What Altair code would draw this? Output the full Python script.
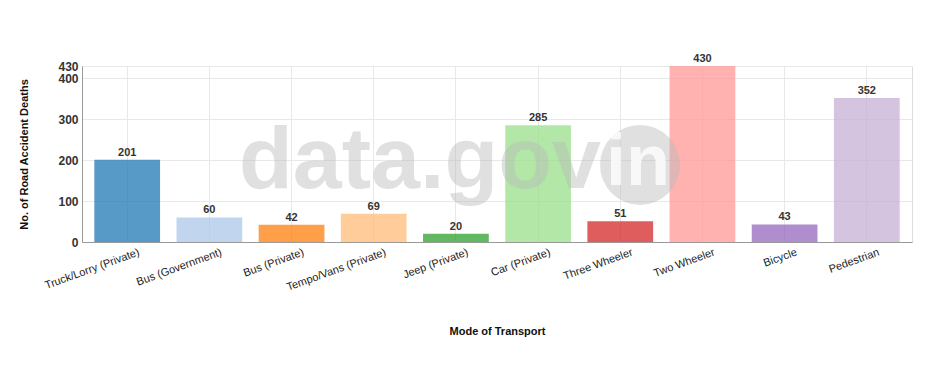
import altair as alt
import pandas as pd

categories = ["Truck/Lorry (Private)", "Bus (Government)", "Bus (Private)", "Tempo/Vans (Private)",
              "Jeep (Private)", "Car (Private)", "Three Wheeler", "Two Wheeler", "Bicycle", "Pedestrian"]
deaths = [201, 60, 42, 69, 20, 285, 51, 430, 43, 352]
colors = ["#1f77b4", "#aec7e8", "#ff7f0e", "#ffbb78", "#2ca02c", "#98df8a",
          "#d62728", "#ff9896", "#9467bd", "#c5b0d5"]
y_ticks = [0, 100, 200, 300, 400, 430]

df = pd.DataFrame({"mode": categories, "deaths": deaths})
FONT = "Liberation Sans"

x = alt.X("mode:N", sort=categories, title="Mode of Transport",
          scale=alt.Scale(paddingInner=0.2, paddingOuter=0.15),
          axis=alt.Axis(labelAngle=-20, labelAlign="right", labelBaseline="top",
                        labelFont=FONT, labelFontSize=11, labelColor="#222", labelPadding=4,
                        labelOffset=10, labelOverlap=False,
                        titleFont=FONT, titleFontSize=11, titleFontWeight="bold", titleColor="#111",
                        titleY=89, titleBaseline="middle",
                        ticks=False, domainColor="#999", grid=True, gridColor="#e8e8e8"))
y = alt.Y("deaths:Q", title="No. of Road Accident Deaths",
          scale=alt.Scale(domain=[0, 430], nice=False),
          axis=alt.Axis(values=y_ticks, labelFont=FONT, labelFontSize=12, labelFontWeight="bold",
                        labelColor="#333", labelPadding=4, labelOverlap=False,
                        titleFont=FONT, titleFontSize=11, titleFontWeight="bold", titleColor="#111",
                        titleX=-58, titleY=88, titleAngle=-90, titleAlign="center",
                        titleBaseline="middle",
                        ticks=False, domainColor="#999", grid=True, gridColor="#e8e8e8"))

base = alt.Chart(df).encode(x=x, y=y)
bars = base.mark_bar(opacity=0.75).encode(
    color=alt.Color("mode:N", sort=categories, scale=alt.Scale(domain=categories, range=colors),
                    legend=None),
)
labels = base.mark_text(dy=-7, font=FONT, fontSize=11, fontWeight="bold", color="#333").encode(
    text="deaths:Q"
)

wm_text = alt.Chart(pd.DataFrame({"t": ["data.gov"]})).mark_text(
    font=FONT, fontSize=88, fontWeight="bold", color="#bbbbbb", opacity=0.45,
    align="center", baseline="middle"
).encode(x=alt.value(338), y=alt.value(96), text="t:N")
wm_circle = alt.Chart(pd.DataFrame({"t": ["in"]})).mark_point(
    shape="circle", filled=True, size=6400, color="#bbbbbb", opacity=0.45
).encode(x=alt.value(558), y=alt.value(99))
wm_in = alt.Chart(pd.DataFrame({"t": ["in"]})).mark_text(
    font=FONT, fontSize=72, fontWeight="bold", color="#ffffff", opacity=0.8,
    align="center", baseline="middle"
).encode(x=alt.value(556), y=alt.value(97), text="t:N")

chart = alt.layer(bars, labels, wm_text, wm_circle, wm_in).properties(
    width=830, height=176,
    autosize=alt.AutoSizeParams(type="none"),
    padding={"left": 74, "top": 58, "right": 6, "bottom": 126},
).configure_view(stroke=None).configure(background="white")

chart.save("out.html", embed_options={"renderer": "svg", "actions": False})
